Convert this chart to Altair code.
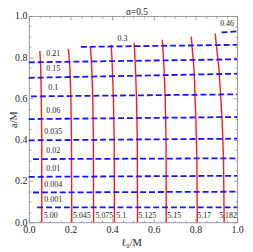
import altair as alt
import pandas as pd

# ---- red contour lines (l0, a) points, labels ----
red_labels = ["5.00", "5.045", "5.075", "5.1", "5.125", "5.15", "5.17", "5.182"]
red_l0 = [
    [0.062, 0.062, 0.060, 0.057, 0.053],
    [0.206, 0.205, 0.202, 0.197, 0.190],
    [0.311, 0.310, 0.307, 0.302, 0.296],
    [0.411, 0.410, 0.406, 0.401, 0.396],
    [0.522, 0.521, 0.517, 0.512, 0.506],
    [0.660, 0.659, 0.655, 0.649, 0.641],
    [0.809, 0.807, 0.802, 0.794, 0.780],
    [0.938, 0.935, 0.928, 0.914, 0.895],
]
red_a = [
    [0.0, 0.4, 0.6, 0.75, 0.83],
    [0.0, 0.4, 0.6, 0.75, 0.84],
    [0.0, 0.4, 0.6, 0.75, 0.85],
    [0.0, 0.4, 0.6, 0.75, 0.86],
    [0.0, 0.4, 0.6, 0.75, 0.87],
    [0.0, 0.4, 0.6, 0.75, 0.885],
    [0.0, 0.3, 0.5, 0.73, 0.90],
    [0.0, 0.3, 0.5, 0.73, 0.915],
]
red_lab_x = [0.072, 0.212, 0.32, 0.42, 0.526, 0.665, 0.809, 0.914]
red_lab_a = [0.03, 0.03, 0.03, 0.03, 0.03, 0.03, 0.03, 0.03]

# ---- blue dashed contour lines ----
blue_labels = ["0.001", "0.004", "0.01", "0.02", "0.035", "0.06", "0.1", "0.15", "0.21", "0.3", "0.46"]
blue_start = [0.04, 0.02, 0.0, 0.02, 0.0, 0.0, 0.01, 0.0, 0.0, 0.25, 0.925]
blue_a_left = [0.072, 0.144, 0.220, 0.306, 0.397, 0.500, 0.610, 0.700, 0.775, 0.850, 0.920]
blue_a_right = [0.072, 0.148, 0.225, 0.310, 0.405, 0.510, 0.620, 0.720, 0.790, 0.860, 0.925]
blue_lab_x = [0.117, 0.117, 0.117, 0.117, 0.117, 0.117, 0.117, 0.117, 0.117, 0.45, 0.952]
blue_lab_a = [0.09, 0.162, 0.24, 0.325, 0.418, 0.52, 0.63, 0.722, 0.797, 0.87, 0.94]

title_text = ["α=0.5"]

major = [0.0, 0.2, 0.4, 0.6, 0.8, 1.0]
minor = [0.05, 0.1, 0.15, 0.25, 0.3, 0.35, 0.45, 0.5, 0.55, 0.65, 0.7, 0.75, 0.85, 0.9, 0.95]

rows = []
for i, lab in enumerate(red_labels):
    for j, (x, y) in enumerate(zip(red_l0[i], red_a[i])):
        rows.append({"l0": x, "a": y, "line": lab, "k": j})
red_df = pd.DataFrame(rows)

rows = []
for i, lab in enumerate(blue_labels):
    rows.append({"l0": blue_start[i], "a": blue_a_left[i], "line": lab, "k": 0})
    rows.append({"l0": 1.0, "a": blue_a_right[i], "line": lab, "k": 1})
blue_df = pd.DataFrame(rows)

red_lab_df = pd.DataFrame({"l0": red_lab_x, "a": red_lab_a, "t": red_labels})
blue_lab_df = pd.DataFrame({"l0": blue_lab_x, "a": blue_lab_a, "t": blue_labels})

FONT = "Liberation Serif"
W, H = 210, 208
xs = alt.Scale(domain=[0, 1], nice=False, zero=False)
ys = alt.Scale(domain=[0, 1], nice=False, zero=False)
TC = "#888888"


def ax(orient, values, size, labels, title=None, tx=None, ty=None):
    kw = dict(orient=orient, values=values, tickSize=size, offset=-size, domain=False,
              grid=False, labels=labels, tickColor=TC, tickWidth=0.8)
    if labels:
        kw.update(labelFont=FONT, labelFontSize=10, labelColor="#222222", labelPadding=2,
                  format=".1f", labelFlush=False, labelOverlap=False)
    if title is not None:
        kw.update(title=title, titleFont=FONT, titleFontSize=10.5, titleFontWeight="normal",
                  titleColor="#222222", titleX=tx, titleY=ty, titleBaseline="alphabetic",
                  titleAlign="center")
    else:
        kw.update(title=None)
    return alt.Axis(**kw)


red = alt.Chart(red_df).mark_line(color="#ff1a1a", strokeWidth=1.4).encode(
    x=alt.X("l0:Q", scale=xs, axis=ax("bottom", major, 4, True, "ℓ₀/M", 103, 27.5)),
    y=alt.Y("a:Q", scale=ys, axis=ax("left", major, 4, True, "a/M", -16, 104)),
    detail="line:N",
    order="k:Q",
)

blue = alt.Chart(blue_df).mark_line(color="#1414ff", strokeWidth=1.8, strokeDash=[6, 3]).encode(
    x=alt.X("l0:Q", scale=xs, axis=ax("top", major, 4, False)),
    y=alt.Y("a:Q", scale=ys, axis=ax("right", major, 4, False)),
    detail="line:N",
    order="k:Q",
)

red_txt = alt.Chart(red_lab_df).mark_text(font=FONT, fontSize=8, align="left", baseline="middle",
                                          color="#222222").encode(
    x=alt.X("l0:Q", scale=xs, axis=ax("bottom", minor, 2, False)),
    y=alt.Y("a:Q", scale=ys, axis=ax("left", minor, 2, False)),
    text="t:N",
)

blue_txt = alt.Chart(blue_lab_df).mark_text(font=FONT, fontSize=8, align="center", baseline="bottom",
                                            color="#222222").encode(
    x=alt.X("l0:Q", scale=xs, axis=ax("top", minor, 2, False)),
    y=alt.Y("a:Q", scale=ys, axis=ax("right", minor, 2, False)),
    text="t:N",
)

title = alt.Chart(pd.DataFrame({"t": title_text})).mark_text(
    font=FONT, fontSize=9.5, align="center", baseline="alphabetic", color="#222222"
).encode(
    x=alt.value(W / 2 + 4),
    y=alt.value(-0.5),
    text="t:N",
)

chart = alt.layer(red, blue, red_txt, blue_txt, title).resolve_axis(
    x="independent", y="independent"
).properties(
    width=W,
    height=H,
    autosize="none",
    padding={"left": 21, "top": 7, "right": 8, "bottom": 28},
).configure_view(stroke="#999999", strokeWidth=1)

chart.save("out.html", embed_options={"renderer": "svg", "actions": False})
